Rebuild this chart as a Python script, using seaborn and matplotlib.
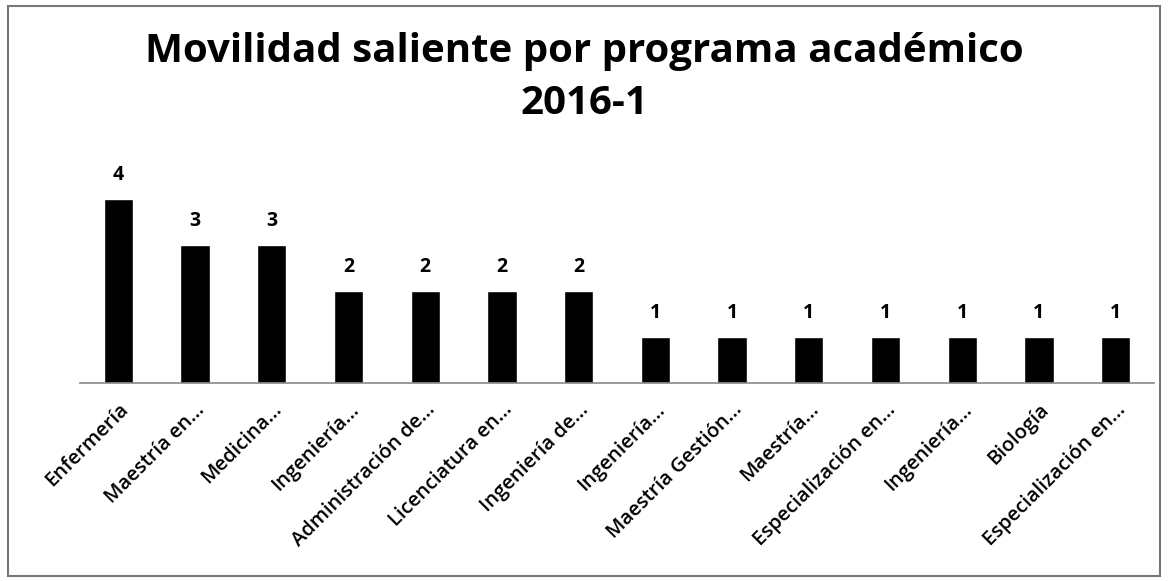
import matplotlib
matplotlib.use("Agg")
import matplotlib.pyplot as plt
import seaborn as sns
import pandas as pd

programas = ["Enfermería", "Maestría en…", "Medicina…", "Ingeniería…",
             "Administración de…", "Licenciatura en…", "Ingeniería de…",
             "Ingeniería…", "Maestría Gestión…", "Maestría…",
             "Especialización en…", "Ingeniería…", "Biología",
             "Especialización en…"]
estudiantes = [4, 3, 3, 2, 2, 2, 2, 1, 1, 1, 1, 1, 1, 1]
titulo = "Movilidad saliente por programa académico\n2016-1"

sns.set_style("white")
plt.rcParams['font.family'] = ['Open Sans', 'DejaVu Sans']
plt.rcParams['text.color'] = 'black'
plt.rcParams['xtick.color'] = 'black'
plt.rcParams['xtick.labelcolor'] = 'black'

df = pd.DataFrame({"pos": range(len(programas)), "n": estudiantes})

fig = plt.figure(figsize=(11.69, 5.81), dpi=100)
ax = fig.add_axes([80 / 1169, 198 / 581, 1074 / 1169, 212 / 581])
sns.barplot(data=df, x="pos", y="n", color="black", width=0.38,
            saturation=1, ax=ax)
ax.set_xlim(-0.5, len(programas) - 0.5)
ax.set_ylim(0, 4.6)

for i, v in enumerate(estudiantes):
    ax.text(i, v + 0.4, str(v), ha="center", va="baseline",
            fontsize=14, fontweight="bold", color="black")

ax.set_xticks(range(len(programas)))
ax.set_xticklabels(programas, rotation=45, ha="right",
                   rotation_mode="anchor", fontsize=14.5, fontweight="semibold",
                   color="black")
ax.tick_params(axis="x", length=0, pad=12)
ax.set_yticks([])
ax.set_xlabel("")
ax.set_ylabel("")
for s in ["top", "right", "left"]:
    ax.spines[s].set_visible(False)
ax.spines["bottom"].set_color("#888888")
ax.spines["bottom"].set_linewidth(1.2)

fig.text(0.5, 1 - 32 / 581, titulo, ha="center", va="top", fontsize=29,
         fontweight="bold", linespacing=1.45, color="black")

fig.patches.append(plt.Rectangle((8 / 1169, 5 / 581), 1152 / 1169, 570 / 581,
                                 transform=fig.transFigure, fill=False,
                                 edgecolor="#777777", linewidth=1.5))

fig.savefig("out.png", dpi=100)
